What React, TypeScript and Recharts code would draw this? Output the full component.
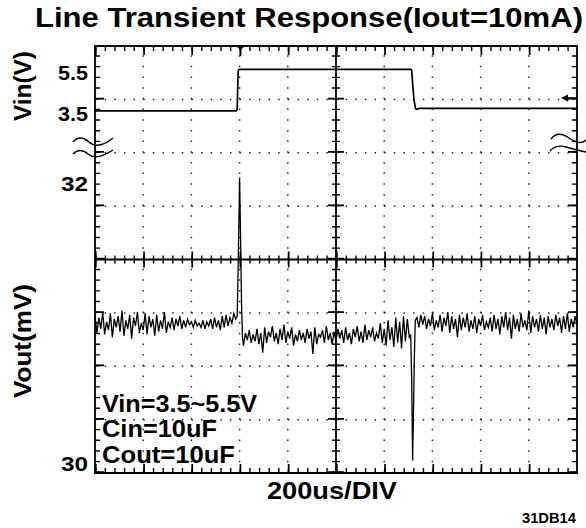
import { LineChart, Line, XAxis, YAxis, ReferenceLine, ReferenceArea } from "recharts"

const W = 586
const H = 528
const FONT = "'Liberation Sans', Arial, Helvetica, sans-serif"

// scope graticule: 10 x 8 divisions at 200us/div
const US_PER_DIV = 200
const X_DIVS = 10
const Y_DIVS = 8
const T_END = US_PER_DIV * X_DIVS
const PLOT_W = 482
const PLOT_H = 427

// Vin channel, volts
const vinTime = [0, 586, 590, 594, 598, 1310, 1314, 1318, 1324, 1330, 1336, 1345, 2000]
const vinVolts = [3.5, 3.5, 3.56, 5.4, 5.5, 5.5, 5.45, 4.8, 4.0, 3.6, 3.57, 3.62, 3.62]
const vinTicks = [3.5, 5.5]
const VIN_DOMAIN = [-14.0, 6.63]

// Vout channel, mV (noise read every 8us)
const STEP = 8
const noiseAStart = 0
const noiseA = [
  31.06, 30.93, 31.04, 30.96, 31.08, 30.92, 31.01, 30.95, 31.07, 30.9,
  31.03, 30.97, 31.05, 30.94, 31.09, 30.91, 31.02, 30.96, 31.06, 30.89,
  31.04, 30.98, 31.08, 30.93, 31.0, 30.95, 31.07, 30.92, 31.05, 30.97,
  31.03, 30.91, 31.06, 30.94, 31.02, 30.96, 31.08, 30.93, 31.01, 30.97,
  31.04, 30.95, 31.03, 30.98, 31.05, 30.96, 31.02, 30.97, 31.03, 30.99,
  31.01, 30.97, 31.02, 30.98, 31.0, 30.97, 31.02, 30.96, 31.01, 30.98,
  31.03, 30.96, 31.04, 30.97, 31.02, 30.95, 31.05, 30.97, 31.06, 30.98,
  31.04, 31.0, 31.07, 31.03,
]
const spikeUpTime = [590, 594, 600, 604, 608, 612]
const spikeUpMv = [31.05, 31.4, 32.04, 31.61, 31.14, 30.9]
const noiseBStart = 616
const noiseB = [
  30.84, 30.93, 30.88, 30.95, 30.86, 30.92, 30.87, 30.96, 30.85, 30.93,
  30.79, 30.97, 30.86, 30.94, 30.9, 30.98, 30.87, 30.93, 30.85, 30.96,
  30.88, 30.99, 30.86, 30.94, 30.89, 30.97, 30.84, 30.92, 30.87, 30.95,
  30.88, 30.93, 30.86, 30.96, 30.89, 30.94, 30.78, 30.97, 30.85, 30.92,
  30.9, 30.95, 30.86, 30.98, 30.88, 30.93, 30.85, 30.94, 30.87, 30.96,
  30.89, 30.95, 30.86, 30.97, 30.88, 30.93, 30.85, 30.96, 30.9, 30.98,
  30.87, 30.94, 30.86, 30.99, 30.88, 30.95, 30.9, 30.97, 30.87, 30.93,
  30.89, 31.0, 30.86, 30.96, 30.84, 31.02, 30.88, 30.97, 30.83, 31.04,
  30.86, 31.01, 30.82, 31.05, 30.87, 31.03, 30.9,
]
const spikeDownTime = [1310, 1314, 1318, 1321, 1325, 1329]
const spikeDownMv = [30.92, 30.6, 30.02, 30.31, 30.75, 31.02]
const noiseCStart = 1336
const noiseC = [
  31.04, 30.97, 31.06, 30.99, 31.05, 30.96, 31.03, 30.98, 31.07, 30.95,
  31.02, 30.97, 31.06, 30.94, 31.04, 30.98, 31.08, 30.93, 31.05, 30.96,
  31.03, 30.9, 31.06, 30.95, 31.04, 30.97, 31.07, 30.94, 31.02, 30.96,
  31.05, 30.93, 31.03, 30.98, 31.06, 30.95, 31.01, 30.97, 31.04, 30.94,
  31.06, 30.96, 31.03, 30.92, 31.05, 30.97, 31.08, 30.95, 31.04, 30.89,
  31.06, 30.96, 31.03, 30.94, 31.07, 30.97, 31.02, 30.95, 31.09, 30.93,
  31.05, 30.97, 31.03, 30.94, 31.06, 30.96, 31.04, 30.92, 31.05, 30.97,
  31.03, 30.95, 31.06, 30.98, 31.04, 30.93, 31.05, 30.96, 31.07, 30.94,
  31.03, 30.97, 31.05, 30.99,
]
const voutTicks = [30, 32]
const VOUT_DOMAIN = [29.93, 32.98]

const notes = ["Vin=3.5~5.5V", "Cin=10uF", "Cout=10uF"]

const vinData = vinTime.map((t, i) => ({ t, v: vinVolts[i] }))
const noise = (start: number, vals: number[]) => vals.map((v, i) => ({ t: start + i * STEP, v }))
const voutData = [
  ...noise(noiseAStart, noiseA),
  ...spikeUpTime.map((t, i) => ({ t, v: spikeUpMv[i] })),
  ...noise(noiseBStart, noiseB),
  ...spikeDownTime.map((t, i) => ({ t, v: spikeDownMv[i] })),
  ...noise(noiseCStart, noiseC),
]

// graticule helpers: vertical divisions mapped onto the Vout axis
const mvPerDiv = (VOUT_DOMAIN[1] - VOUT_DOMAIN[0]) / Y_DIVS
const divY = (d: number) => VOUT_DOMAIN[0] + d * mvPerDiv
const minorX = PLOT_W / (X_DIVS * 5)
const minorY = PLOT_H / (Y_DIVS * 5)
const usPerPx = T_END / PLOT_W
const divPerPx = Y_DIVS / PLOT_H
const gridX = Array.from({ length: X_DIVS - 1 }, (_, i) => (i + 1) * US_PER_DIV).filter((x) => x !== T_END / 2)
const gridY = Array.from({ length: Y_DIVS - 1 }, (_, i) => i + 1).filter((y) => y !== Y_DIVS / 2)

const dash = (w: number, period: number) => `${w} ${period - w}`

function ScaleTick(props: any) {
  const { y, payload, shift } = props
  const label = String(payload.value)
  return (
    <text x={88} y={y + shift} textAnchor="end" fontFamily={FONT} fontWeight="bold" fontSize={21} fill="#000"
      textLength={label.length === 2 ? 27 : 30} lengthAdjust="spacingAndGlyphs">
      {label}
    </text>
  )
}

export default function App() {
  const txt = { fontFamily: FONT, fontWeight: "bold" as const, fill: "#000" }
  const hLine = (key: string, d: number, width: number, dasharray?: string, color = "#000") => (
    <ReferenceLine key={key} yAxisId="vout" y={divY(d)} stroke={color} strokeWidth={width} strokeDasharray={dasharray} ifOverflow="extendDomain" />
  )
  const vLine = (key: string, t: number, width: number, dasharray?: string, color = "#000") => (
    <ReferenceLine key={key} yAxisId="vout" x={t} stroke={color} strokeWidth={width} strokeDasharray={dasharray} ifOverflow="extendDomain" />
  )
  return (
    <div style={{ position: "absolute", left: 0, top: 0, width: W, height: H, background: "#fff" }}>
      <LineChart width={W} height={H} margin={{ top: 46, right: 9, bottom: 55, left: 0 }}>
        <XAxis type="number" dataKey="t" domain={[0, T_END]} hide />
        <YAxis yAxisId="vin" type="number" domain={VIN_DOMAIN} ticks={vinTicks} interval={0} width={94}
          axisLine={false} tickLine={false} tick={(p: any) => <ScaleTick {...p} shift={10.4} />} />
        <YAxis yAxisId="vout" type="number" domain={VOUT_DOMAIN} ticks={voutTicks} interval={0} width={1}
          axisLine={false} tickLine={false} tick={(p: any) => <ScaleTick {...p} shift={7.8} />} />

        {gridX.map((x) => vLine("gx" + x, x, 1.5, dash(1.5, minorY), "#222"))}
        {gridY.map((y) => hLine("gy" + y, y, 1.5, dash(1.5, minorX), "#222"))}

        {/* centre cross with minor and major ticks */}
        {hLine("c1", Y_DIVS / 2, 1.8)}
        {vLine("c2", T_END / 2, 1.8)}
        {hLine("c3", Y_DIVS / 2, 8, dash(1.4, minorX))}
        {hLine("c4", Y_DIVS / 2, 16, dash(1.7, minorX * 5))}
        {vLine("c5", T_END / 2, 8, dash(1.4, minorY))}
        {vLine("c6", T_END / 2, 16, dash(1.7, minorY * 5))}

        {/* inward ticks on the frame */}
        {hLine("f1", Y_DIVS - 2.5 * divPerPx, 5, dash(1.4, minorX))}
        {hLine("f2", 2.5 * divPerPx, 5, dash(1.4, minorX))}
        {hLine("f3", Y_DIVS - 4.5 * divPerPx, 9, dash(1.7, minorX * 5))}
        {hLine("f4", 4.5 * divPerPx, 9, dash(1.7, minorX * 5))}
        {vLine("f5", 2.5 * usPerPx, 5, dash(1.4, minorY))}
        {vLine("f6", T_END - 2.5 * usPerPx, 5, dash(1.4, minorY))}
        {vLine("f7", 4.5 * usPerPx, 9, dash(1.7, minorY * 5))}
        {vLine("f8", T_END - 4.5 * usPerPx, 9, dash(1.7, minorY * 5))}

        <ReferenceArea yAxisId="vout" x1={0} x2={T_END} y1={VOUT_DOMAIN[0]} y2={VOUT_DOMAIN[1]} fill="none" fillOpacity={0}
          stroke="#000" strokeWidth={1.8} ifOverflow="extendDomain" />

        <Line yAxisId="vin" data={vinData} dataKey="v" type="linear" stroke="#000" strokeWidth={1.7} dot={false} isAnimationActive={false} />
        <Line yAxisId="vout" data={voutData} dataKey="v" type="linear" stroke="#000" strokeWidth={1.3} dot={false} isAnimationActive={false} />
      </LineChart>

      <svg width={W} height={H} style={{ position: "absolute", left: 0, top: 0, pointerEvents: "none" }}>
        <text x={35} y={27} fontSize={27} textLength={548} lengthAdjust="spacingAndGlyphs" {...txt}>
          Line Transient Response(Iout=10mA)
        </text>
        <text transform="rotate(-90 22 86)" x={22} y={86} textAnchor="middle" dominantBaseline="central" fontSize={24} textLength={70} lengthAdjust="spacingAndGlyphs" {...txt}>
          Vin(V)
        </text>
        <text transform="rotate(-90 22 341)" x={22} y={341} textAnchor="middle" dominantBaseline="central" fontSize={24} textLength={114} lengthAdjust="spacingAndGlyphs" {...txt}>
          Vout(mV)
        </text>
        <text x={102} y={412} fontSize={23} textLength={155} lengthAdjust="spacingAndGlyphs" {...txt}>{notes[0]}</text>
        <text x={102} y={437} fontSize={23} textLength={115} lengthAdjust="spacingAndGlyphs" {...txt}>{notes[1]}</text>
        <text x={102} y={463} fontSize={23} textLength={133} lengthAdjust="spacingAndGlyphs" {...txt}>{notes[2]}</text>
        <text x={267} y={499} fontSize={24} textLength={130} lengthAdjust="spacingAndGlyphs" {...txt}>200us/DIV</text>
        <text x={522} y={523} fontSize={14} textLength={54} lengthAdjust="spacingAndGlyphs" {...txt}>31DB14</text>

        {/* trigger position and level markers */}
        <polygon points="235,45 246,45 240.5,50" fill="#000" />
        <line x1={240.5} y1={50} x2={240.5} y2={56} stroke="#000" strokeWidth={1.5} />
        <polygon points="561,98 568,94.5 568,101.5" fill="#000" />
        <line x1={566} y1={98} x2={577} y2={98} stroke="#000" strokeWidth={1.5} />

        {/* axis break marks */}
        <g fill="none" stroke="#000" strokeWidth={1.4}>
          <path d="M73,142 Q80,134 89,142 T113,138" />
          <path d="M73,154 Q80,147 88,154 T113,150" />
          <path d="M551,139 Q558,130 569,138 T586,140" />
          <path d="M550,151 Q556,144 566,147 T586,152" />
        </g>
      </svg>
    </div>
  )
}
